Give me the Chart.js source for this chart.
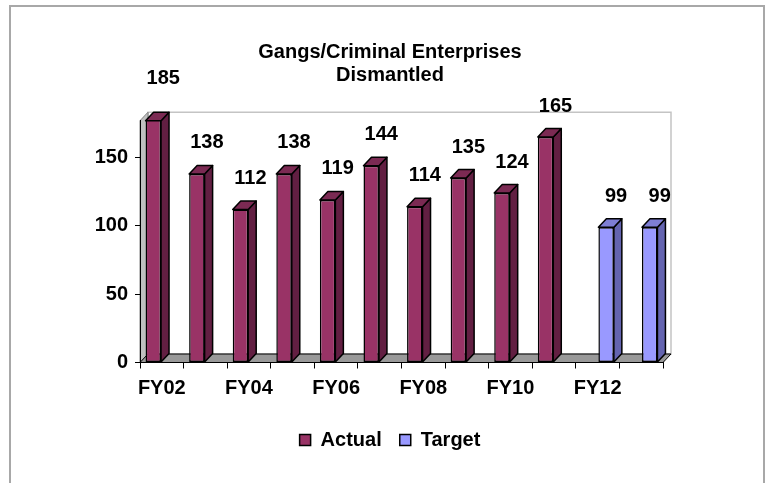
<!DOCTYPE html>
<html>
<head>
<meta charset="utf-8">
<script src="https://cdn.jsdelivr.net/npm/chart.js@4"></script>
<style>
  html, body { margin: 0; padding: 0; background: #fff; }
</style>
</head>
<body>
<canvas id="gangChart" width="765" height="483"></canvas>

<script>
  // values
  const years = ['FY02', 'FY03', 'FY04', 'FY05', 'FY06', 'FY07', 'FY08', 'FY09', 'FY10', 'FY11', 'FY12', 'FY13'];
  const actualValues = [185, 138, 112, 138, 119, 144, 114, 135, 124, 165, null, null];
  const targetValues = [null, null, null, null, null, null, null, null, null, null, 99, 99];
  const yTickValues = [0, 50, 100, 150];

  // 3d look: depth offset of the bars, walls and floor
  const DEPTH_X = 8;
  const DEPTH_Y = 8.5;

  const faceColors = [
    {side: '#621f42', top: '#7b2a53'},
    {side: '#6464b0', top: '#7e7ed4'}
  ];

  function poly(ctx, pts) {
    ctx.beginPath();
    ctx.moveTo(pts[0][0], pts[0][1]);
    for (let i = 1; i < pts.length; i++) ctx.lineTo(pts[i][0], pts[i][1]);
    ctx.closePath();
    ctx.fill();
    ctx.stroke();
  }

  const threeD = {
    id: 'threeD',
    beforeDraw(chart) {
      const ctx = chart.ctx;
      const a = chart.chartArea;
      ctx.save();
      // outer frame
      ctx.strokeStyle = '#a8a8a8';
      ctx.lineWidth = 2;
      ctx.strokeRect(10, 6, 754, 520);
      // back wall
      ctx.fillStyle = '#ffffff';
      ctx.strokeStyle = '#c4c4c4';
      ctx.lineWidth = 1.5;
      ctx.beginPath();
      ctx.rect(a.left + DEPTH_X, a.top - DEPTH_Y, a.right - a.left, a.bottom - a.top);
      ctx.fill();
      ctx.stroke();
      // left wall
      ctx.fillStyle = '#c0c0c0';
      ctx.strokeStyle = '#808080';
      ctx.lineWidth = 1;
      poly(ctx, [[a.left, a.top], [a.left + DEPTH_X, a.top - DEPTH_Y],
                 [a.left + DEPTH_X, a.bottom - DEPTH_Y], [a.left, a.bottom]]);
      // floor
      ctx.fillStyle = '#999999';
      ctx.strokeStyle = '#000000';
      poly(ctx, [[a.left, a.bottom], [a.left + DEPTH_X, a.bottom - DEPTH_Y],
                 [a.right + DEPTH_X, a.bottom - DEPTH_Y], [a.right, a.bottom]]);
      ctx.restore();
    },
    afterDatasetsDraw(chart) {
      const ctx = chart.ctx;
      const a = chart.chartArea;
      ctx.save();
      ctx.strokeStyle = '#000';
      ctx.lineWidth = 1.5;
      ctx.lineJoin = 'round';
      chart.data.datasets.forEach((ds, di) => {
        const meta = chart.getDatasetMeta(di);
        meta.data.forEach((bar, i) => {
          if (ds.data[i] == null) return;
          const half = bar.width / 2;
          const l = bar.x - half, r = bar.x + half;
          const t = Math.max(bar.y, a.top);
          const b = bar.base;
          ctx.fillStyle = faceColors[di].side;
          poly(ctx, [[r, t], [r + DEPTH_X, t - DEPTH_Y], [r + DEPTH_X, b - DEPTH_Y], [r, b]]);
          ctx.fillStyle = faceColors[di].top;
          poly(ctx, [[l, t], [l + DEPTH_X, t - DEPTH_Y], [r + DEPTH_X, t - DEPTH_Y], [r, t]]);
        });
      });
      // value labels
      ctx.fillStyle = '#000';
      ctx.font = 'bold 20px "Liberation Sans", Arial, sans-serif';
      ctx.textAlign = 'center';
      ctx.textBaseline = 'middle';
      chart.data.datasets.forEach((ds, di) => {
        chart.getDatasetMeta(di).data.forEach((bar, i) => {
          if (ds.data[i] == null) return;
          ctx.fillText(String(ds.data[i]), bar.x + 10, bar.y - 31);
        });
      });
      ctx.restore();
    }
  };

  Chart.defaults.font.family = '"Liberation Sans", Arial, sans-serif';
  Chart.defaults.color = '#000';

  new Chart('gangChart', {
    type: 'bar',
    data: {
      labels: years,
      datasets: [{
        label: 'Actual',
        data: actualValues,
        backgroundColor: '#993366',
        borderColor: '#000',
        borderWidth: 1.5,
        borderSkipped: false
      }, {
        label: 'Target',
        data: targetValues,
        backgroundColor: '#9999ff',
        borderColor: '#000',
        borderWidth: 1.5,
        borderSkipped: false
      }]
    },
    options: {
      responsive: false,
      animation: false,
      categoryPercentage: 0.78,
      barPercentage: 0.91,
      layout: {padding: {left: 15, right: 0, top: 0, bottom: 23}},
      scales: {
        x: {
          grid: {drawOnChartArea: false, tickLength: 6, color: '#000', offset: true},
          border: {color: '#000', width: 1},
          ticks: {
            font: {size: 20, weight: 'bold'},
            autoSkip: false,
            maxRotation: 0,
            padding: 7.5,
            callback(v, i) { return i % 2 === 0 ? years[i] : ''; }
          },
          afterFit(s) { s.height = 49.5; }
        },
        y: {
          min: 0,
          max: 177,
          grid: {drawOnChartArea: false, tickLength: 5, color: '#000'},
          border: {color: '#000', width: 1},
          ticks: {font: {size: 20, weight: 'bold'}, stepSize: 50, padding: 7},
          afterBuildTicks(s) { s.ticks = yTickValues.map(v => ({value: v})); },
          afterFit(s) { s.width = 125; }
        },
        yRight: {
          position: 'right',
          grid: {display: false},
          border: {display: false},
          ticks: {display: false},
          afterFit(s) { s.width = 102; }
        }
      },
      plugins: {
        title: {
          display: true,
          text: ['Gangs/Criminal Enterprises', 'Dismantled'],
          font: {size: 20, weight: 'bold', lineHeight: 1.15},
          padding: {top: 40.5, bottom: 34.2}
        },
        legend: {
          position: 'bottom',
          labels: {
            boxWidth: 11,
            boxHeight: 11,
            padding: 18,
            font: {size: 20, weight: 'bold'}
          }
        },
        tooltip: {enabled: false}
      }
    },
    plugins: [threeD]
  });
</script>
</body>
</html>
